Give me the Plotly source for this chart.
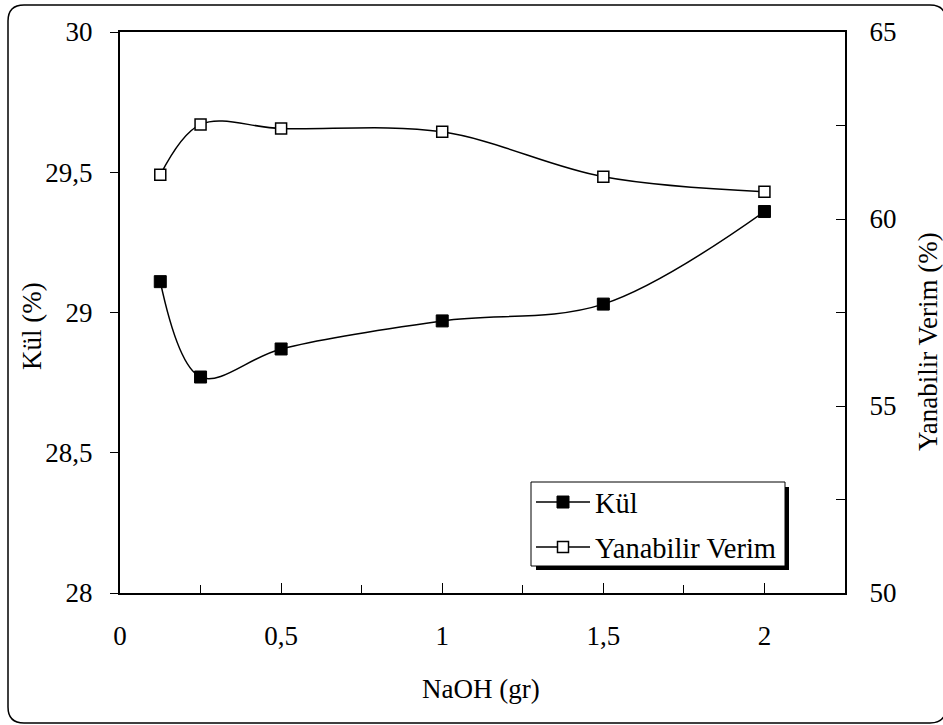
import plotly.graph_objects as go

# ---- data ----
naoh = [0.125, 0.25, 0.5, 1.0, 1.5, 2.0]
kul = [29.11, 28.77, 28.87, 28.97, 29.03, 29.36]
verim = [61.18, 62.53, 62.42, 62.33, 61.13, 60.73]

W, H = 943, 725
L, R, T, B = 120, 845, 32, 593  # plot area in pixels

def px(X):
    return (X - L) / (R - L)

def py(Y):
    return (B - Y) / (B - T)

FONT = "Liberation Serif, Times New Roman, serif"
FS = 27
LFS = 28.5

fig = go.Figure()
fig.add_trace(go.Scatter(
    x=naoh, y=kul, name="Kül", mode="lines+markers", legendgroup="a",
    line=dict(color="black", width=1.5, shape="spline", smoothing=1.0),
    marker=dict(symbol="square", size=12, color="black", line=dict(color="black", width=1)),
))
fig.add_trace(go.Scatter(
    x=naoh, y=verim, name="Yanabilir Verim", mode="lines+markers", yaxis="y2", legendgroup="b",
    line=dict(color="black", width=1.5, shape="spline", smoothing=1.0),
    marker=dict(symbol="square", size=11, color="white", line=dict(color="black", width=1.5)),
))

# rounded outer border
x0, y0, x1, y1, r = 8, 5, 946, 723, 16
def P(X, Y):
    return f"{px(X):.5f},{py(Y):.5f}"
path = (f"M {P(x0+r, y0)} L {P(x1-r, y0)} Q {P(x1, y0)} {P(x1, y0+r)} "
        f"L {P(x1, y1-r)} Q {P(x1, y1)} {P(x1-r, y1)} L {P(x0+r, y1)} "
        f"Q {P(x0, y1)} {P(x0, y1-r)} L {P(x0, y0+r)} Q {P(x0, y0)} {P(x0+r, y0)} Z")

shapes = [
    dict(type="path", path=path, xref="paper", yref="paper",
         line=dict(color="black", width=1.5), layer="below"),
    # legend shadow
    dict(type="rect", xref="paper", yref="paper",
         x0=px(536), x1=px(789), y0=py(570), y1=py(487),
         fillcolor="black", line=dict(width=0), layer="above"),
    # legend box
    dict(type="rect", xref="paper", yref="paper",
         x0=px(531), x1=px(785), y0=py(566), y1=py(482),
         fillcolor="white", line=dict(color="black", width=1), layer="above"),
]

fig.update_layout(
    width=W, height=H, autosize=False,
    margin=dict(l=L, r=W - R, t=T, b=H - B, pad=0),
    paper_bgcolor="white", plot_bgcolor="white",
    separators=",.",
    font=dict(family=FONT, size=FS, color="black"),
    showlegend=True,
    legend=dict(x=px(531), y=py(477), xanchor="left", yanchor="top",
                bgcolor="rgba(0,0,0,0)", borderwidth=0,
                font=dict(family=FONT, size=LFS), tracegroupgap=5,
                itemwidth=54),
    xaxis=dict(range=[0, 2.25], dtick=0.5, tick0=0, ticks="inside", ticklen=10,
               tickwidth=1, tickcolor="black",
               minor=dict(dtick=0.25, ticks="inside", ticklen=8, tickcolor="black", tickwidth=1),
               showline=True, linecolor="black", linewidth=2, mirror=True,
               showgrid=False, zeroline=False, ticklabelstandoff=18),
    yaxis=dict(range=[28, 30], dtick=0.5, ticks="outside", ticklen=8,
               tickcolor="black", showline=True, linecolor="black", linewidth=2,
               showgrid=False, zeroline=False, ticklabelstandoff=12),
    yaxis2=dict(range=[50, 65], dtick=5, overlaying="y", side="right",
                ticks="inside", ticklen=9, tickcolor="black",
                minor=dict(dtick=2.5, ticks="inside", ticklen=9, tickcolor="black"),
                showline=True, linecolor="black", linewidth=2,
                showgrid=False, zeroline=False, ticklabelstandoff=17),
    shapes=shapes,
    annotations=[
        dict(text="NaOH (gr)", xref="paper", yref="paper", x=px(481), y=py(689),
             showarrow=False, xanchor="center", yanchor="middle", font=dict(size=FS)),
        dict(text="Kül (%)", xref="paper", yref="paper", x=px(32), y=py(326),
             showarrow=False, textangle=-90, xanchor="center", yanchor="middle", font=dict(size=FS)),
        dict(text="Yanabilir Verim (%)", xref="paper", yref="paper", x=px(928), y=py(341),
             showarrow=False, textangle=-90, xanchor="center", yanchor="middle", font=dict(size=FS)),
    ],
)

fig.write_html("out.html", config={"displayModeBar": False},
               post_script="document.body.style.margin='0';document.body.style.overflow='hidden';")
